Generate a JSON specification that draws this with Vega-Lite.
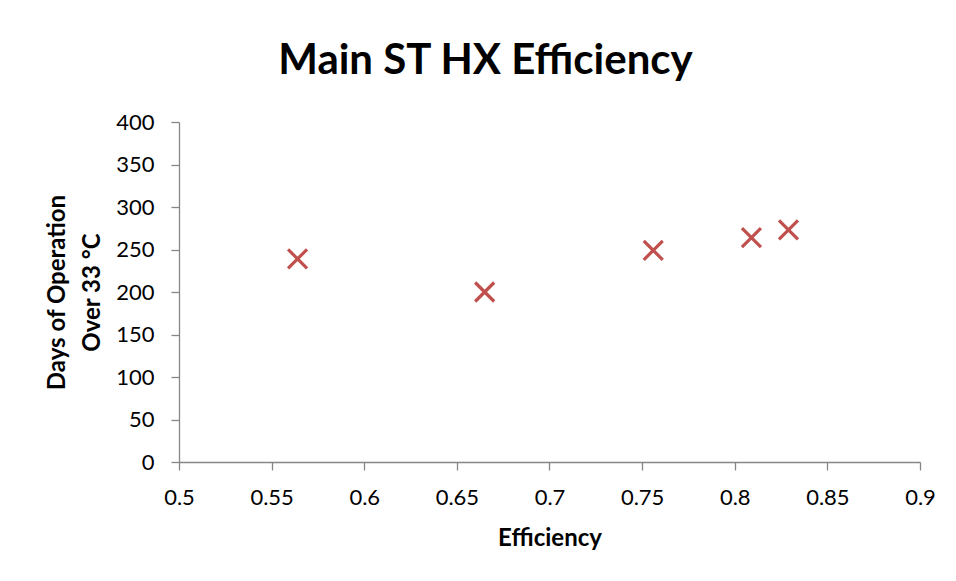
{
  "$schema": "https://vega.github.io/schema/vega-lite/v6.json",
  "width": 741,
  "height": 340,
  "autosize": "none",
  "padding": {"left": 179, "top": 122, "right": 36, "bottom": 119},
  "background": "white",
  "config": {
    "view": {"stroke": null},
    "font": "Lato",
    "axis": {
      "grid": false,
      "domainColor": "#868686",
      "tickColor": "#868686",
      "domainWidth": 1.3,
      "tickWidth": 1.3,
      "tickSize": 8,
      "labelColor": "#000000",
      "labelFont": "Lato",
      "labelFontSize": 22,
      "titleFont": "Lato",
      "titleFontSize": 24,
      "titleFontWeight": "bold",
      "titleColor": "#000000"
    }
  },
  "title": {
    "text": "Main ST HX Efficiency",
    "font": "Lato",
    "fontSize": 42,
    "fontWeight": "bold",
    "color": "#000000",
    "anchor": "middle",
    "frame": "group",
    "dx": -64,
    "dy": 41,
    "baseline": "alphabetic",
    "offset": 36
  },
  "data": {
    "values": [
      {"efficiency": 0.564, "days": 239},
      {"efficiency": 0.665, "days": 200},
      {"efficiency": 0.756, "days": 249},
      {"efficiency": 0.809, "days": 264},
      {"efficiency": 0.829, "days": 273}
    ]
  },
  "mark": {
    "type": "point",
    "shape": "M-1,-1L1,1M-1,1L1,-1",
    "filled": false,
    "stroke": "#C0504D",
    "strokeWidth": 3.2,
    "size": 361,
    "opacity": 1
  },
  "encoding": {
    "x": {
      "field": "efficiency",
      "type": "quantitative",
      "scale": {"domain": [0.5, 0.9], "nice": false, "zero": false},
      "axis": {
        "title": "Efficiency",
        "values": [0.5, 0.55, 0.6, 0.65, 0.7, 0.75, 0.8, 0.85, 0.9],
        "format": ".2~f",
        "labelPadding": 17,
        "titlePadding": 18,
        "labelFlush": false,
        "labelOverlap": false
      }
    },
    "y": {
      "field": "days",
      "type": "quantitative",
      "scale": {"domain": [0, 400], "nice": false},
      "axis": {
        "title": ["Days of Operation", "Over 33 °C"],
        "titleLineHeight": 35,
        "values": [0, 50, 100, 150, 200, 250, 300, 350, 400],
        "labelPadding": 17,
        "titlePadding": 11,
        "labelFlush": false,
        "labelOverlap": false
      }
    }
  }
}
